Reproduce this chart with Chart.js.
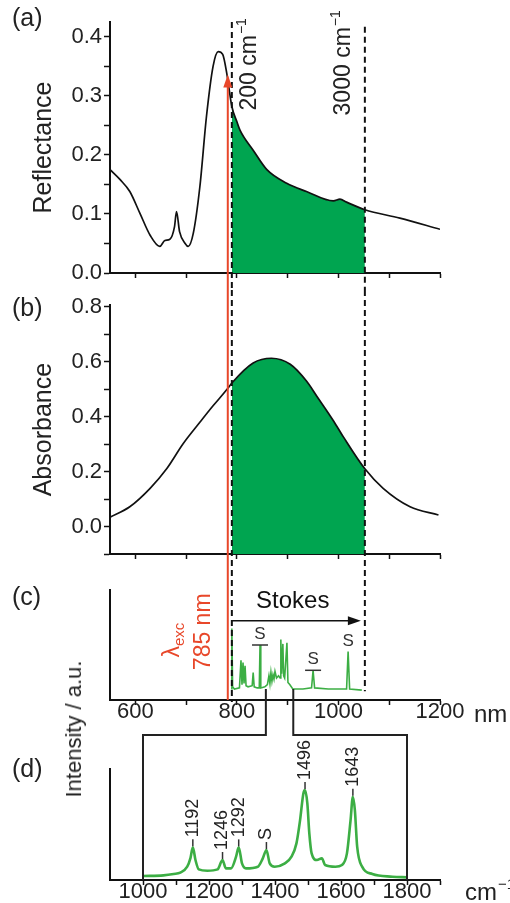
<!DOCTYPE html>
<html>
<head>
<meta charset="utf-8">
<script src="https://cdn.jsdelivr.net/npm/chart.js@4.4.1/dist/chart.umd.min.js"></script>
<style>
  body { margin: 0; background: #fff; }
  #wrap { position: relative; width: 510px; height: 903px; font-family: 'Liberation Sans', Arial, sans-serif; color: #222; overflow: hidden; }
  #wrap canvas { position: absolute; left: 0; }
  .panel { position: absolute; left: 12px; font-size: 25px; line-height: 1; }
  #ylab { position: absolute; left: 74px; top: 729px; font-size: 22px; line-height: 1; white-space: nowrap; transform: translate(-50%, -50%) rotate(-90deg); }
</style>
</head>
<body>
<div id="wrap">
  <canvas id="ca" width="510" height="290" style="top:0"></canvas>
  <canvas id="cb" width="510" height="280" style="top:290px"></canvas>
  <canvas id="cc" width="510" height="155" style="top:570px"></canvas>
  <canvas id="cd" width="510" height="178" style="top:725px"></canvas>
  <div class="panel" style="top:5px">(a)</div>
  <div class="panel" style="top:295px">(b)</div>
  <div class="panel" style="top:584px">(c)</div>
  <div class="panel" style="top:756px">(d)</div>
  <div id="ylab">Intensity / a.u.</div>
</div>
<script>
// (a) reflectance vs wavelength (nm)
const reflNm = [550, 570, 589, 609, 629, 648, 658, 668, 677, 681, 687, 698, 704, 714, 727, 740, 753, 763, 772, 780, 790, 800, 806, 832, 859, 898, 937, 990, 1003, 1016, 1052, 1121, 1200];
const reflVal = [0.175, 0.158, 0.138, 0.101, 0.064, 0.045, 0.055, 0.057, 0.078, 0.104, 0.07, 0.05, 0.045, 0.067, 0.146, 0.265, 0.35, 0.375, 0.37, 0.338, 0.282, 0.256, 0.242, 0.208, 0.175, 0.152, 0.138, 0.122, 0.125, 0.12, 0.107, 0.093, 0.074];

// (b) absorbance vs wavelength (nm)
const absNm = [550, 589, 629, 662, 694, 727, 753, 781, 790, 832, 868, 905, 937, 957, 990, 1010, 1052, 1088, 1141, 1197];
const absVal = [0.034, 0.072, 0.139, 0.211, 0.301, 0.379, 0.439, 0.5, 0.522, 0.595, 0.612, 0.59, 0.529, 0.475, 0.385, 0.325, 0.21, 0.139, 0.072, 0.042];

// (c) Raman spectrum vs wavelength (nm), arbitrary units
const ramanNm = [789, 790, 791.5, 795, 805, 808, 810, 812, 814, 816, 818, 822, 830, 832, 834, 840, 844, 845.5, 847, 855, 860, 863, 865, 867, 869, 871, 873, 875, 878, 882, 885, 886.5, 888, 890.5, 892, 894, 898.5, 900.5, 904, 910, 930, 947, 950, 953, 980, 1016, 1019, 1022, 1046];
const ramanInt = [10, 65, 12, 10, 11, 36, 14, 34, 15, 31, 13, 12, 13, 25, 12, 11, 11, 50, 11, 12, 14, 22, 15, 25, 17, 23, 19, 26, 20, 22, 20, 55, 24, 51, 22, 20, 52, 16, 14, 10, 10, 11, 27, 11, 10, 10, 44, 10, 9];
const solventNm = [845.5, 950, 1019];
const solventBar = [true, true, false];

// (d) Raman spectrum vs Raman shift (cm-1)
const shiftCm = [1000, 1062, 1093, 1113, 1134, 1144, 1151, 1159, 1169, 1195, 1226, 1241, 1251, 1267, 1282, 1290, 1300, 1312, 1348, 1363, 1374, 1384, 1399, 1430, 1450, 1465, 1476, 1486, 1491, 1498, 1504, 1511, 1527, 1542, 1552, 1583, 1603, 1618, 1629, 1636, 1642, 1649, 1664, 1695, 1756, 1800];
const shiftInt = [3.6, 4.2, 5.4, 6.6, 12, 20, 29.4, 18, 9.6, 8.4, 9.6, 18, 10.5, 10.5, 21, 29.4, 15, 10.5, 12, 19.5, 27, 15, 12, 15, 21, 33, 54, 78, 81, 69, 42, 24, 18, 19.5, 13.5, 12, 13.5, 24, 54, 75, 63, 30, 12, 5.4, 3, 2.4];
const peakCm = [1151, 1241, 1290, 1374, 1491, 1636];
const peakLabels = ['1192', '1246', '1292', 'S', '1496', '1643'];

// markers
const excNm = 782;          // laser line
const stokesStart = 790;    // 200 cm-1
const stokesEnd = 1052;     // 3000 cm-1
const zoomLo = 857, zoomHi = 911;   // window shown in (d)
const zoomCmLo = 1000, zoomCmHi = 1800;

// ticks
const nmTicks = [600, 700, 800, 900, 1000, 1100, 1200];
const nmLabels = [600, 800, 1000, 1200];
const reflTicks = [0, 0.05, 0.1, 0.15, 0.2, 0.25, 0.3, 0.35, 0.4];
const reflLabels = [0, 0.1, 0.2, 0.3, 0.4];
const absTicks = [-0.1, 0, 0.1, 0.2, 0.3, 0.4, 0.5, 0.6, 0.7, 0.8];
const absLabels = [0, 0.2, 0.4, 0.6, 0.8];
const cmTicks = [1000, 1100, 1200, 1300, 1400, 1500, 1600, 1700, 1800, 1900];
const cmLabels = [1000, 1200, 1400, 1600, 1800];

const RED = '#e8472a';
const GREEN_FILL = '#00a550';
const GREEN_LINE = '#3cae44';
const FONT = "'Liberation Sans', Arial, sans-serif";

Chart.defaults.font.family = FONT;
Chart.defaults.color = '#222';

const pts = (xs, ys) => xs.map((v, i) => ({ x: v, y: ys[i] }));
const between = (xs, ys, a, b) => pts(xs, ys).filter(p => p.x >= a && p.x <= b);

function xAxis(min, max, ticks, labels, showLabels, h) {
    return {
        type: 'linear', min: min, max: max,
        afterBuildTicks: s => { s.ticks = ticks.map(v => ({ value: v })); },
        afterFit: s => { s.height = h; },
        ticks: {
            display: showLabels, padding: -4, autoSkip: false, maxRotation: 0, minRotation: 0,
            font: { size: 22, lineHeight: 1 },
            callback: v => labels.includes(v) ? String(v) : ''
        },
        grid: { drawOnChartArea: false, tickLength: 5, color: '#111', tickWidth: 1.5 },
        border: { color: '#111', width: 2 }
    };
}

function yAxis(min, max, ticks, labels, title) {
    const ax = {
        min: min, max: max,
        afterFit: s => { s.width = 110; },
        border: { color: '#111', width: 2 }
    };
    if (ticks) {
        ax.afterBuildTicks = s => { s.ticks = ticks.map(v => ({ value: v })); };
        ax.ticks = { padding: 2, autoSkip: false, font: { size: 22 }, callback: v => labels.includes(v) ? v.toFixed(1) : '' };
        ax.grid = { drawOnChartArea: false, tickLength: 6, color: '#111', tickWidth: 1.5 };
        ax.title = { display: true, text: title, font: { size: 25 }, padding: { top: 29, bottom: 0 } };
    } else {
        ax.ticks = { display: false };
        ax.grid = { drawOnChartArea: false, drawTicks: false };
    }
    return ax;
}

function baseOptions(padTop, scales) {
    return {
        responsive: false,
        animation: false,
        events: [],
        layout: { padding: { top: padTop, right: 70, left: 0, bottom: 0 } },
        plugins: { legend: { display: false }, tooltip: { enabled: false } },
        scales: scales
    };
}

function vline(ctx, x, y1, y2, color, width, dash) {
    ctx.save();
    ctx.strokeStyle = color;
    ctx.lineWidth = width;
    ctx.setLineDash(dash || []);
    ctx.beginPath();
    ctx.moveTo(x, y1);
    ctx.lineTo(x, y2);
    ctx.stroke();
    ctx.restore();
}

// rotated text (reads bottom to top) with optional superscript
function rotText(ctx, text, sup, cx, cy, size, color) {
    ctx.save();
    ctx.translate(cx, cy);
    ctx.rotate(-Math.PI / 2);
    ctx.fillStyle = color || '#222';
    ctx.textBaseline = 'middle';
    ctx.textAlign = 'left';
    ctx.font = size + 'px ' + FONT;
    const w1 = ctx.measureText(text).width;
    let w2 = 0;
    if (sup) {
        ctx.font = Math.round(size * 0.62) + 'px ' + FONT;
        w2 = ctx.measureText(sup).width;
    }
    const x0 = -(w1 + w2) / 2;
    ctx.font = size + 'px ' + FONT;
    ctx.fillText(text, x0, 0);
    if (sup) {
        ctx.font = Math.round(size * 0.62) + 'px ' + FONT;
        ctx.fillText(sup, x0 + w1 + 1, -size * 0.33);
    }
    ctx.restore();
}

const dash = [6, 4];

// ---------- (a) ----------
const chartA = new Chart(document.getElementById('ca'), {
    type: 'line',
    data: {
        datasets: [
            { data: pts(reflNm, reflVal), borderColor: '#111', borderWidth: 1.7, pointRadius: 0, cubicInterpolationMode: 'monotone', fill: false, order: 0 },
            { data: between(reflNm, reflVal, stokesStart, stokesEnd), borderWidth: 0, backgroundColor: GREEN_FILL, pointRadius: 0, cubicInterpolationMode: 'monotone', fill: 'origin', order: 1 }
        ]
    },
    options: baseOptions(22, {
        x: xAxis(550, 1200, nmTicks, nmLabels, false, 17),
        y: yAxis(0, 0.425, reflTicks, reflLabels, 'Reflectance')
    }),
    plugins: [{
        id: 'marksA',
        afterDatasetsDraw(chart) {
            const { ctx, scales: { x, y } } = chart;
            const x1 = x.getPixelForValue(stokesStart), x2 = x.getPixelForValue(stokesEnd);
            vline(ctx, x1, y.getPixelForValue(0.425), chart.height, '#111', 2, dash);
            vline(ctx, x2, y.getPixelForValue(0.417), chart.height, '#111', 2, dash);
            const xr = x.getPixelForValue(excNm), yt = y.getPixelForValue(0.336);
            vline(ctx, xr, yt + 8, chart.height, RED, 2);
            ctx.save();
            ctx.fillStyle = RED;
            ctx.beginPath();
            ctx.moveTo(xr, yt);
            ctx.lineTo(xr - 4.5, yt + 13);
            ctx.lineTo(xr + 4.5, yt + 13);
            ctx.closePath();
            ctx.fill();
            ctx.restore();
            rotText(ctx, '200 cm', '\u22121', x1 + 18, y.getPixelForValue(0.3525), 23);
            rotText(ctx, '3000 cm', '\u22121', x2 - 21, y.getPixelForValue(0.355), 23);
        }
    }]
});

// ---------- (b) ----------
const chartB = new Chart(document.getElementById('cb'), {
    type: 'line',
    data: {
        datasets: [
            { data: pts(absNm, absVal), borderColor: '#111', borderWidth: 1.7, pointRadius: 0, cubicInterpolationMode: 'monotone', fill: false, order: 0 },
            { data: between(absNm, absVal, stokesStart, stokesEnd), borderWidth: 0, backgroundColor: GREEN_FILL, pointRadius: 0, cubicInterpolationMode: 'monotone', fill: 'start', order: 1 }
        ]
    },
    options: baseOptions(15, {
        x: xAxis(550, 1200, nmTicks, nmLabels, false, 16),
        y: yAxis(-0.1, 0.805, absTicks, absLabels, 'Absorbance')
    }),
    plugins: [{
        id: 'marksB',
        afterDatasetsDraw(chart) {
            const { ctx, scales: { x } } = chart;
            vline(ctx, x.getPixelForValue(stokesStart), 0, chart.height, '#111', 2, dash);
            vline(ctx, x.getPixelForValue(stokesEnd), 0, chart.height, '#111', 2, dash);
            vline(ctx, x.getPixelForValue(excNm), 0, chart.height, RED, 2);
        }
    }]
});

// ---------- (c) ----------
const chartC = new Chart(document.getElementById('cc'), {
    type: 'line',
    data: {
        datasets: [
            { data: pts(ramanNm, ramanInt), borderColor: GREEN_LINE, borderWidth: 1.6, pointRadius: 0, tension: 0, fill: false }
        ]
    },
    options: baseOptions(20, {
        x: xAxis(550, 1200, nmTicks, nmLabels, true, 25),
        y: yAxis(0, 100)
    }),
    plugins: [{
        id: 'marksC',
        afterDatasetsDraw(chart) {
            const { ctx, chartArea, scales: { x, y } } = chart;
            const x1 = x.getPixelForValue(stokesStart), x2 = x.getPixelForValue(stokesEnd);
            const xr = x.getPixelForValue(excNm);
            vline(ctx, x1, 0, y.getPixelForValue(0) + 2, '#111', 2, dash);
            vline(ctx, x2, 0, y.getPixelForValue(8), '#111', 2, dash);
            vline(ctx, xr, 0, chartArea.bottom, RED, 2);

            // excitation label
            rotText(ctx, '785 nm', null, xr - 24, y.getPixelForValue(62), 23, RED);
            ctx.save();
            const cy = y.getPixelForValue(54.5);
            ctx.translate(xr - 55, cy);
            ctx.rotate(-Math.PI / 2);
            ctx.fillStyle = RED;
            ctx.textBaseline = 'middle';
            ctx.textAlign = 'left';
            ctx.font = '23px ' + FONT;
            const wl = ctx.measureText('\u03bb').width;
            ctx.font = '15px ' + FONT;
            const ws = ctx.measureText('exc').width;
            ctx.font = '23px ' + FONT;
            ctx.fillText('\u03bb', -(wl + ws) / 2, 0);
            ctx.font = '15px ' + FONT;
            ctx.fillText('exc', -(wl + ws) / 2 + wl, 7);
            ctx.restore();

            // Stokes arrow
            const ya = y.getPixelForValue(72);
            const tip = x2 - 4;
            ctx.save();
            ctx.strokeStyle = '#111';
            ctx.fillStyle = '#111';
            ctx.lineWidth = 1.5;
            ctx.beginPath();
            ctx.moveTo(x1, ya);
            ctx.lineTo(tip - 10, ya);
            ctx.stroke();
            ctx.beginPath();
            ctx.moveTo(tip, ya);
            ctx.lineTo(tip - 13, ya - 4.5);
            ctx.lineTo(tip - 13, ya + 4.5);
            ctx.closePath();
            ctx.fill();
            ctx.font = '24px ' + FONT;
            ctx.textAlign = 'center';
            ctx.textBaseline = 'middle';
            ctx.fillText('Stokes', x.getPixelForValue(910), y.getPixelForValue(90));

            // solvent bands
            ctx.font = '17px ' + FONT;
            ctx.fillStyle = '#333';
            ctx.strokeStyle = '#333';
            solventNm.forEach((nm, i) => {
                const px = x.getPixelForValue(nm);
                const py = y.getPixelForValue(ramanInt[ramanNm.indexOf(nm)]);
                if (solventBar[i]) {
                    ctx.beginPath();
                    ctx.moveTo(px - 8, py);
                    ctx.lineTo(px + 8, py);
                    ctx.stroke();
                }
                ctx.textBaseline = 'bottom';
                ctx.fillText('S', px, py - 2);
            });
            ctx.restore();

            // zoom window connectors
            vline(ctx, x.getPixelForValue(zoomLo), y.getPixelForValue(10), chart.height, '#222', 2);
            vline(ctx, x.getPixelForValue(zoomHi), y.getPixelForValue(10), chart.height, '#222', 2);

            // unit
            ctx.save();
            ctx.font = '24px ' + FONT;
            ctx.fillStyle = '#222';
            ctx.textAlign = 'left';
            ctx.textBaseline = 'middle';
            ctx.fillText('nm', chartArea.right + 34, chartArea.bottom + 15);
            ctx.restore();
        }
    }]
});

// ---------- (d) ----------
const chartD = new Chart(document.getElementById('cd'), {
    type: 'line',
    data: {
        datasets: [
            { data: pts(shiftCm, shiftInt), borderColor: GREEN_LINE, borderWidth: 2.6, pointRadius: 0, cubicInterpolationMode: 'monotone', fill: false }
        ]
    },
    options: baseOptions(44, {
        x: xAxis(900, 1900, cmTicks, cmLabels, true, 23),
        y: yAxis(0, 100)
    }),
    plugins: [{
        id: 'marksD',
        afterDatasetsDraw(chart) {
            const { ctx, chartArea, scales: { x, y } } = chart;
            const xs = chartC.scales.x;
            const hy = 10;
            ctx.save();
            ctx.strokeStyle = '#222';
            ctx.lineWidth = 2;
            ctx.beginPath();
            ctx.moveTo(xs.getPixelForValue(zoomLo), 0);
            ctx.lineTo(xs.getPixelForValue(zoomLo), hy);
            ctx.lineTo(x.getPixelForValue(zoomCmLo), hy);
            ctx.lineTo(x.getPixelForValue(zoomCmLo), chartArea.bottom);
            ctx.moveTo(xs.getPixelForValue(zoomHi), 0);
            ctx.lineTo(xs.getPixelForValue(zoomHi), hy);
            ctx.lineTo(x.getPixelForValue(zoomCmHi), hy);
            ctx.lineTo(x.getPixelForValue(zoomCmHi), chartArea.bottom);
            ctx.stroke();

            // peak labels
            ctx.strokeStyle = '#333';
            ctx.lineWidth = 1.5;
            peakCm.forEach((cm, i) => {
                const px = x.getPixelForValue(cm);
                const py = y.getPixelForValue(shiftInt[shiftCm.indexOf(cm)]);
                ctx.beginPath();
                ctx.moveTo(px, py - 1);
                ctx.lineTo(px, py - 8);
                ctx.stroke();
                ctx.save();
                ctx.translate(px, py - 10);
                ctx.rotate(-Math.PI / 2);
                ctx.font = '18px ' + FONT;
                ctx.fillStyle = '#222';
                ctx.textAlign = 'left';
                ctx.textBaseline = 'middle';
                ctx.fillText(peakLabels[i], 0, 0);
                ctx.restore();
            });

            // unit
            ctx.font = '24px ' + FONT;
            ctx.fillStyle = '#222';
            ctx.textAlign = 'left';
            ctx.textBaseline = 'middle';
            ctx.fillText('cm', chartArea.right + 25, chartArea.bottom + 13);
            const wcm = ctx.measureText('cm').width;
            ctx.font = '15px ' + FONT;
            ctx.fillText('\u22121', chartArea.right + 25 + wcm + 1, chartArea.bottom + 5);
            ctx.restore();
        }
    }]
});
</script>
</body>
</html>
